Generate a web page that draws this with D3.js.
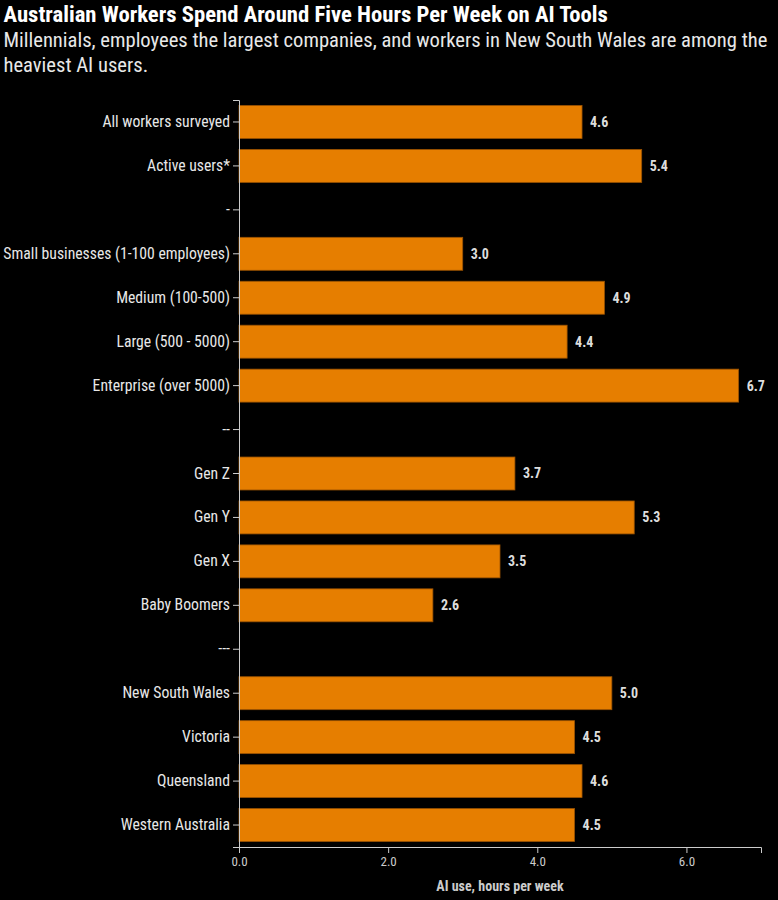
<!DOCTYPE html>
<html><head><meta charset="utf-8">
<script src="https://cdn.jsdelivr.net/npm/d3@7"></script>
<style>
html,body{margin:0;padding:0;background:#000;}
svg{display:block;font-family:"Roboto Condensed","Liberation Sans Narrow","DejaVu Sans Condensed",Roboto,sans-serif;}
</style></head><body>
<svg id="chart" width="778" height="900"></svg>
<script>
const categories = ["All workers surveyed","Active users*","-","Small businesses (1-100 employees)","Medium (100-500)","Large (500 - 5000)","Enterprise (over 5000)","--","Gen Z","Gen Y","Gen X","Baby Boomers","---","New South Wales","Victoria","Queensland","Western Australia"];
const values = [4.6,5.4,null,3.0,4.9,4.4,6.7,null,3.7,5.3,3.5,2.6,null,5.0,4.5,4.6,4.5];
const xTicks = [0,2,4,6];
const title = "Australian Workers Spend Around Five Hours Per Week on AI Tools";
const subtitle = ["Millennials, employees the largest companies, and workers in New South Wales are among the","heaviest AI users."];
const xLabel = "AI use, hours per week";

const svg = d3.select("#chart");
const m = {left:239, right:761, top:100, bottom:847};
const x = d3.scaleLinear().domain([0,7]).range([m.left,m.right]);
const y = d3.scaleBand().domain(categories).range([m.top,m.bottom]).paddingInner(0.25).paddingOuter(0.125);

svg.append("rect").attr("width",778).attr("height",900).attr("fill","#000");

svg.append("text").attr("x",3.5).attr("y",21.5).attr("fill","#fff")
  .attr("font-size",22.7).attr("font-weight","bold").text(title);
subtitle.forEach((s,i)=>svg.append("text").attr("x",3.5).attr("y",47+i*25).attr("fill","#e8e8e8")
  .attr("font-size",20.6).text(s));

const data = categories.map((c,i)=>({c,v:values[i]})).filter(d=>d.v!==null);

svg.append("g").selectAll("rect").data(data).join("rect")
  .attr("x",x(0)).attr("y",d=>y(d.c)).attr("width",d=>x(d.v)-x(0)).attr("height",y.bandwidth())
  .attr("fill","#e67e00").attr("stroke","#9a5200").attr("stroke-width",0.8);

svg.append("g").selectAll("text").data(data).join("text")
  .attr("x",d=>x(d.v)+8).attr("y",d=>y(d.c)+y.bandwidth()/2).attr("dy","0.35em")
  .attr("fill","#ddd").attr("font-size",14).attr("font-weight","bold")
  .text(d=>d.v.toFixed(1));

const ya = svg.append("g").attr("transform",`translate(${m.left},0)`).call(d3.axisLeft(y).tickSizeOuter(0).tickSize(6).tickPadding(3));
ya.attr("font-family",null).attr("font-size",null);
ya.select(".domain").attr("stroke","#ccc");
ya.selectAll(".tick line").attr("stroke","#ccc");
ya.selectAll(".tick text").attr("fill","#e8e8e8").attr("font-size",15.7);

const xa = svg.append("g").attr("transform",`translate(0,${m.bottom})`).call(d3.axisBottom(x).tickValues(xTicks).tickFormat(d3.format(".1f")).tickSizeOuter(0).tickSize(6).tickPadding(4));
xa.attr("font-family",null).attr("font-size",null);
xa.select(".domain").attr("stroke","#ccc");
xa.selectAll(".tick line").attr("stroke","#ccc");
xa.selectAll(".tick text").attr("fill","#ccc").attr("font-size",13);

svg.append("text").attr("x",(m.left+m.right)/2).attr("y",891).attr("text-anchor","middle")
  .attr("fill","#ccc").attr("font-size",14).attr("font-weight","bold").text(xLabel);
</script>
</body></html>
